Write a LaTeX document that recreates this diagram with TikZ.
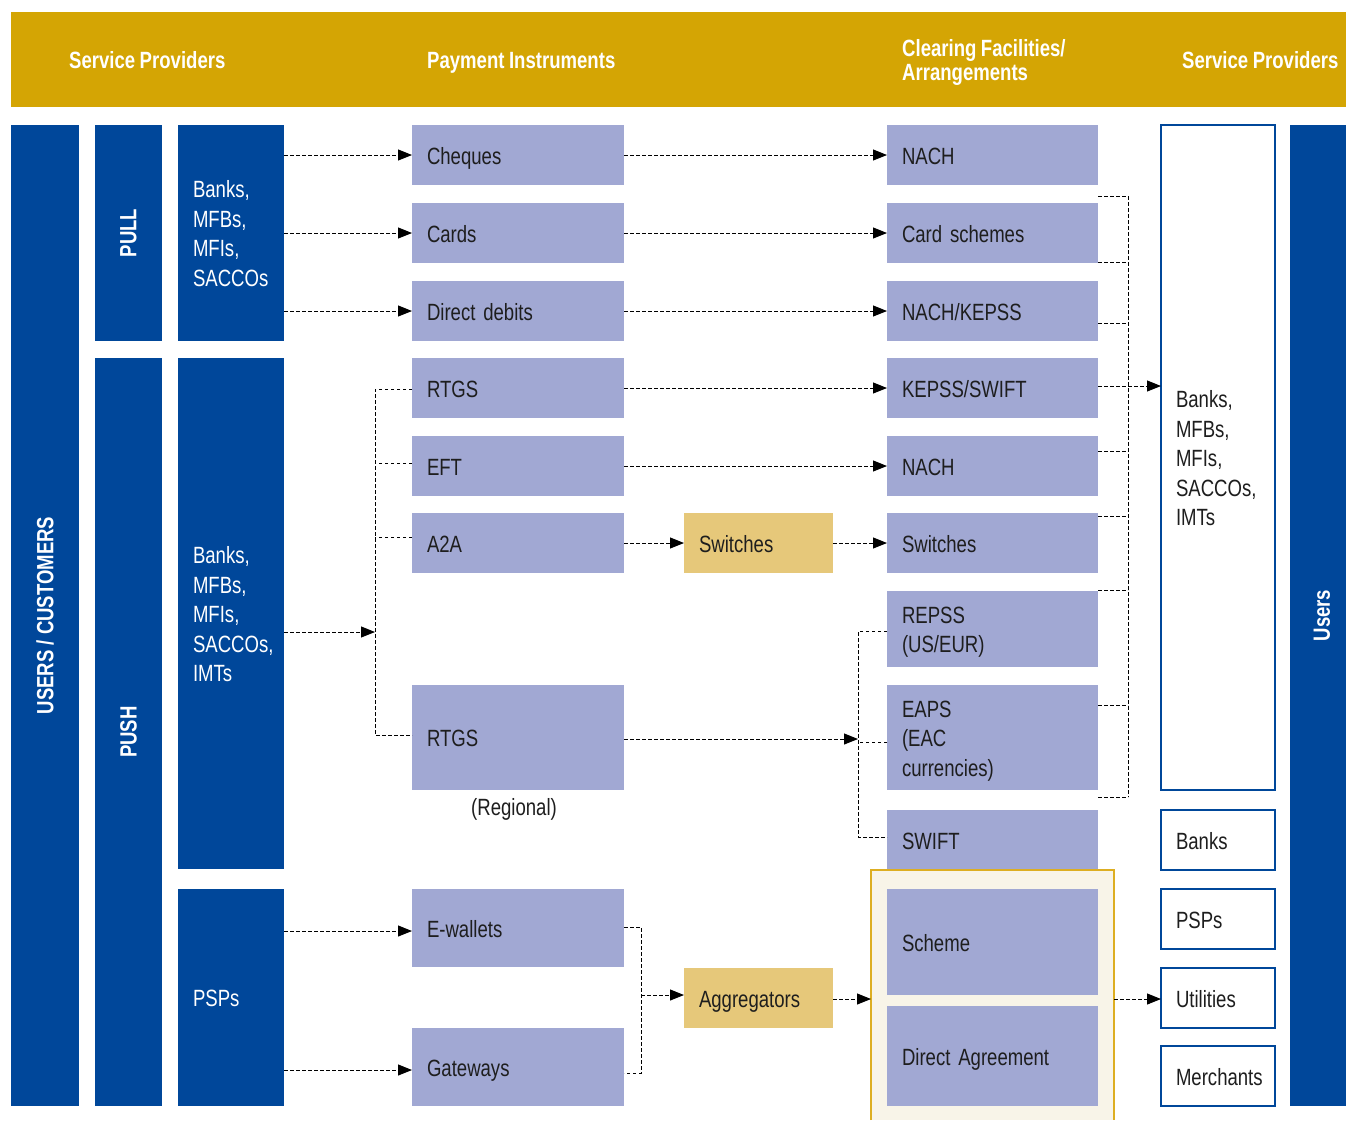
\documentclass[tikz,border=0pt]{standalone}
\usepackage{fontspec}
\setmainfont{Liberation Sans}[FakeStretch=0.79]
\usetikzlibrary{arrows.meta,calc}
\hfuzz=40pt
\definecolor{hdgold}{HTML}{D4A504}
\definecolor{navy}{HTML}{00479A}
\definecolor{lavc}{HTML}{A1A8D3}
\definecolor{tanc}{HTML}{E6C87A}
\definecolor{creamc}{HTML}{F8F4E8}
\definecolor{creamline}{HTML}{DDAE22}
\definecolor{txt}{HTML}{1E1E1E}
\newcommand\mybodyfont{\fontsize{23.5}{29.5}\selectfont\spaceskip=4pt\relax}
\newcommand\myhdfont{\bfseries\fontsize{23.5}{24.5}\selectfont\spaceskip=4.5pt\relax}
\newcommand\bx[7]{%
 \pgfmathsetmacro\bxw{#5-#3}\pgfmathsetmacro\bxh{#6-#4}%
 \pgfmathsetmacro\bxcx{(#3+#5)/2}\pgfmathsetmacro\bxcy{(#4+#6)/2}%
 \pgfmathsetmacro\bxtw{#5-#3-30}%
 \node[#2, minimum width=\bxw pt, minimum height=\bxh pt, text width=\bxtw pt] (#1) at (\bxcx,\bxcy) {\rule{0pt}{24pt}#7\rule[-6pt]{0pt}{0pt}};}
\begin{document}
\begin{tikzpicture}[x=1pt,y=-1pt,
 base/.style={inner xsep=15pt, inner ysep=0pt, outer sep=0pt, align=left, font=\mybodyfont, anchor=center},
 lavbox/.style={base, fill=lavc, text=txt},
 tanbox/.style={base, fill=tanc, text=txt},
 navbox/.style={base, fill=navy, text=white},
 whbox/.style={base, fill=white, draw=navy, line width=1.2pt, text=txt},
 barbox/.style={fill=navy, text=white, inner sep=0pt, outer sep=0pt, font=\bfseries\fontsize{23.5}{26}\selectfont},
 hdtext/.style={text=white, inner sep=0pt, align=left, font=\myhdfont},
 dsh/.style={draw=black, line width=1pt, dash pattern=on 3.5pt off 2.5pt},
 arr/.style={dsh, -{Triangle[length=14pt,width=11pt]}}]
\useasboundingbox (0,0) rectangle (1346,1120);
% header
\node[fill=hdgold, minimum width=1335pt, minimum height=95pt, inner sep=0pt, outer sep=0pt] (hdr) at (678.5,59.5) {};
\node[hdtext, anchor=base west] (h1) at (69,68.5) {Service Providers};
\node[hdtext, anchor=base west] (h2) at (427,68.5) {Payment Instruments};
\node[hdtext, anchor=west] (h3) at (902,62.5) {Clearing Facilities/\\Arrangements};
\node[hdtext, anchor=base west] (h4) at (1182,68.5) {Service Providers};
% left bars
\node[barbox, rotate=90, minimum width=981pt, minimum height=68pt] (users) at (45,615.5) {USERS / CUSTOMERS};
\node[barbox, rotate=90, minimum width=216pt, minimum height=67pt] (pull) at (128.5,233) {PULL};
\node[barbox, rotate=90, minimum width=748pt, minimum height=67pt] (push) at (128.5,732) {PUSH};
\node[barbox, rotate=90, minimum width=981pt, minimum height=64pt] (usr2) at (1322,615.5) {Users};
% providers
\bx{bk1}{navbox}{178}{125}{284}{341}{Banks,\\MFBs,\\MFIs,\\SACCOs}
\bx{bk2}{navbox}{178}{358}{284}{869}{Banks,\\MFBs,\\MFIs,\\SACCOs,\\IMTs}
\bx{psp}{navbox}{178}{889}{284}{1106}{PSPs}
% instruments
\bx{chq}{lavbox}{412}{125}{624}{185}{Cheques}
\bx{crd}{lavbox}{412}{203}{624}{263}{Cards}
\bx{dd}{lavbox}{412}{281}{624}{341}{Direct debits}
\bx{rtgs}{lavbox}{412}{358}{624}{418}{RTGS}
\bx{eft}{lavbox}{412}{436}{624}{496}{EFT}
\bx{a2a}{lavbox}{412}{513}{624}{573}{A2A}
\bx{rtgsr}{lavbox}{412}{685}{624}{790}{RTGS}
\node[font=\mybodyfont, text=txt, inner sep=0pt] (reg) at (514,809) {(Regional)};
\bx{ew}{lavbox}{412}{889}{624}{967}{E-wallets}
\bx{gw}{lavbox}{412}{1028}{624}{1106}{Gateways}
% switches / aggregators
\bx{sw1}{tanbox}{684}{513}{833}{573}{Switches}
\bx{agg}{tanbox}{684}{968}{833}{1028}{Aggregators}
% clearing
\bx{nach1}{lavbox}{887}{125}{1098}{185}{NACH}
\bx{cs}{lavbox}{887}{203}{1098}{263}{Card schemes}
\bx{nk}{lavbox}{887}{281}{1098}{341}{NACH/KEPSS}
\bx{ks}{lavbox}{887}{358}{1098}{418}{KEPSS/SWIFT}
\bx{nach2}{lavbox}{887}{436}{1098}{496}{NACH}
\bx{sw2}{lavbox}{887}{513}{1098}{573}{Switches}
\bx{repss}{lavbox}{887}{591}{1098}{667}{REPSS\\(US/EUR)}
\bx{eaps}{lavbox}{887}{685}{1098}{790}{EAPS\\(EAC\\currencies)}
\bx{swift}{lavbox}{887}{810}{1098}{870}{SWIFT}
% cream container
\node[fill=creamc, minimum width=243pt, minimum height=250pt, inner sep=0pt, outer sep=0pt] (cream) at (992.5,995) {};
\draw[creamline, line width=1.2pt] (cream.south west) -- (cream.north west) -- (cream.north east) -- (cream.south east);
\bx{sch}{lavbox}{887}{889}{1098}{995}{Scheme}
\bx{da}{lavbox}{887}{1006}{1098}{1106}{Direct Agreement}
% right providers
\bx{spbig}{whbox}{1161}{125}{1275}{790}{Banks,\\MFBs,\\MFIs,\\SACCOs,\\IMTs}
\bx{bnk}{whbox}{1161}{810}{1275}{870}{Banks}
\bx{psps}{whbox}{1161}{889}{1275}{949}{PSPs}
\bx{util}{whbox}{1161}{968}{1275}{1028}{Utilities}
\bx{merch}{whbox}{1161}{1046}{1275}{1106}{Merchants}
% connectors: pull
\draw[arr] (bk1.east |- chq) -- (chq);
\draw[arr] (bk1.east |- crd) -- (crd);
\draw[arr] (bk1.east |- dd) -- (dd);
\draw[arr] (chq) -- (nach1);
\draw[arr] (crd) -- (cs);
\draw[arr] (dd) -- (nk);
\draw[arr] (rtgs) -- (ks);
\draw[arr] (eft) -- (nach2);
\draw[arr] (a2a) -- (sw1);
\draw[arr] (sw1) -- (sw2);
% left bracket
\coordinate (lb) at (375,389);
\draw[dsh] (rtgs.west |- 0,389) -- (lb) -- (lb |- 0,735) -- (rtgsr.west |- 0,735);
\draw[dsh] (eft.west |- 0,463) -- (lb |- 0,463);
\draw[dsh] (a2a.west |- 0,537) -- (lb |- 0,537);
\draw[arr] (bk2.east |- 0,632) -- (lb |- 0,632);
% REPSS bracket
\coordinate (mb) at (858,631);
\draw[dsh] (repss.west |- 0,631) -- (mb) -- (mb |- 0,837) -- (swift.west |- 0,837);
\draw[dsh] (eaps.west |- 0,742) -- (mb |- 0,742);
\draw[arr] (rtgsr.east |- 0,739) -- (mb |- 0,739);
% right bracket
\coordinate (rb) at (1128,196);
\draw[dsh] (rb) -- (rb |- 0,797);
\foreach \nn/\yy in {cs/196, cs/262, nk/323, nach2/451, sw2/516, repss/590, eaps/705, eaps/797}
  \draw[dsh] (\nn.east |- 0,\yy) -- (rb |- 0,\yy);
\draw[arr] (ks.east |- 0,386) -- (spbig.west |- 0,386);
% bottom
\coordinate (bb) at (641,927);
\draw[arr] (psp.east |- 0,931) -- (ew.west |- 0,931);
\draw[arr] (psp.east |- 0,1070) -- (gw.west |- 0,1070);
\draw[dsh] (ew.east |- 0,927) -- (bb) -- (bb |- 0,1073) -- (gw.east |- 0,1073);
\draw[arr] (bb |- 0,995) -- (agg.west |- 0,995);
\draw[arr] (agg.east |- 0,999) -- (cream.west |- 0,999);
\draw[arr] (cream.east |- 0,999) -- (util.west |- 0,999);
\end{tikzpicture}
\end{document}
